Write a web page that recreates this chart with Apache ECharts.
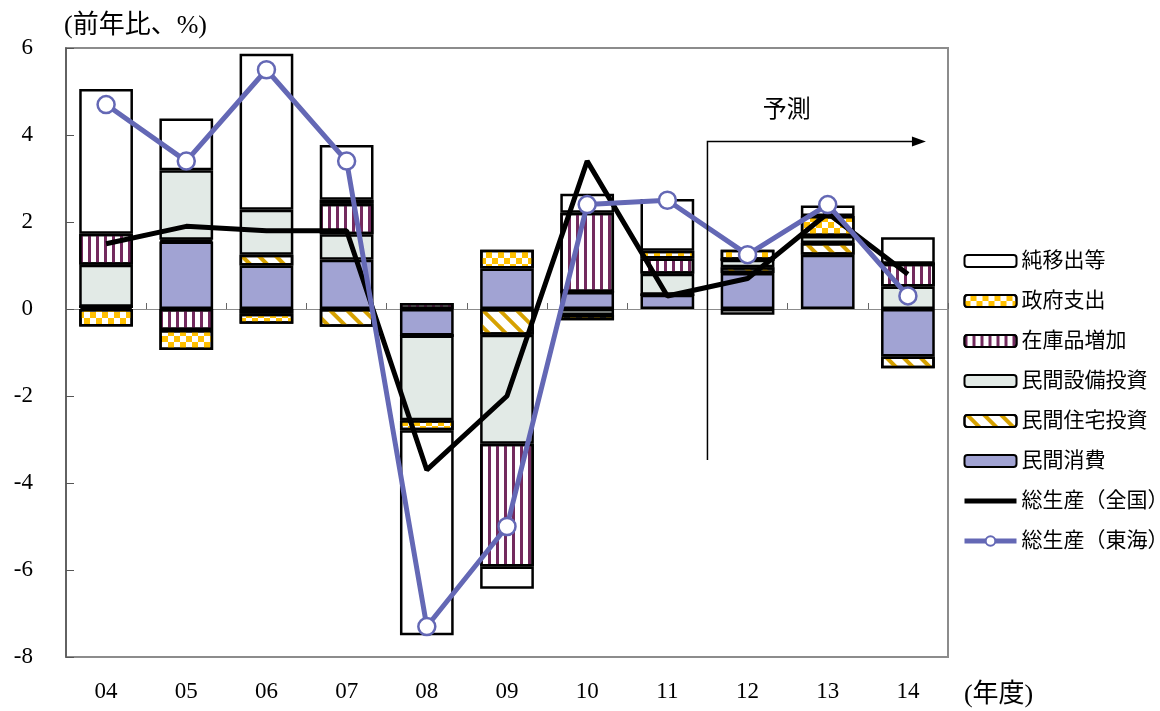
<!DOCTYPE html>
<html>
<head>
<meta charset="utf-8">
<script src="https://cdn.jsdelivr.net/npm/echarts@6/dist/echarts.min.js"></script>
<style>
  html, body { margin: 0; padding: 0; background: #fff; }
  #chart { width: 1160px; height: 711px; }
</style>
</head>
<body>
<div id="chart"></div>
<script>
// 年度
const years = ['04', '05', '06', '07', '08', '09', '10', '11', '12', '13', '14'];

// 寄与度（%ポイント）
const consumption = [0.05, 1.55, 1.00, 1.13, -0.61, 0.93, 0.39, 0.33, 0.83, 1.25, -1.09]; // 民間消費
const housing     = [0, 0.04, 0.25, -0.41, 0, -0.59, 0, 0, 0.13, 0.27, -0.27];              // 民間住宅投資
const equipment   = [0.97, 1.60, 1.03, 0.59, -1.95, -2.51, -0.14, 0.48, 0.17, 0.16, 0.52];  // 民間設備投資
const inventory   = [0.71, -0.48, -0.11, 0.70, 0.14, -2.82, 1.82, 0.35, 0, 0, 0.52];        // 在庫品増加
const government  = [-0.40, -0.46, -0.23, 0.09, -0.23, 0.43, -0.12, 0.18, 0.23, 0.46, 0];  // 政府支出
const netExports  = [3.33, 1.19, 3.59, 1.26, -4.71, -0.51, 0.44, 1.19, -0.13, 0.24, 0.61]; // 純移出等

// 総生産の伸び率（%）
const gdpNation = [1.5, 1.9, 1.8, 1.8, -3.7, -2.0, 3.4, 0.3, 0.7, 2.2, 0.8];
const gdpTokai  = [4.7, 3.4, 5.5, 3.4, -7.3, -5.0, 2.4, 2.5, 1.25, 2.4, 0.3];

// 縦軸目盛
const yTicks = { min: -8, max: 6, step: 2 };

const FONT = "'Liberation Serif', 'Noto Sans CJK JP', serif";
const chart = echarts.init(document.getElementById('chart'));

const border = { borderColor: '#000', borderWidth: 2.5 };

function barSeries(name, data, color, decal) {
  const s = {
    name: name,
    type: 'bar',
    stack: 'total',
    barWidth: '67%',
    data: data,
    itemStyle: Object.assign({ color: color }, border),
    emphasis: { disabled: true }
  };
  if (decal) s.itemStyle.decal = decal;
  return s;
}

const option = {
  animation: false,
  backgroundColor: '#fff',
  textStyle: { fontFamily: FONT },
  grid: {
    left: 66, right: 212, top: 48, bottom: 54,
    show: true, borderColor: '#8c8c8c', borderWidth: 2
  },
  legend: {
    orient: 'vertical',
    left: 962,
    top: 250,
    padding: 0,
    itemWidth: 52,
    itemHeight: 12,
    itemGap: 18,
    textStyle: { fontSize: 21, lineHeight: 22, color: '#000', fontFamily: FONT },
    data: ['純移出等', '政府支出', '在庫品増加', '民間設備投資', '民間住宅投資', '民間消費',
           { name: '総生産（全国）', icon: 'path://M0,0 L52,0 L52,5 L0,5 Z' },
           { name: '総生産（東海）', lineStyle: { width: 5 } }]
  },
  xAxis: [
    {
      type: 'category',
      data: years,
      position: 'bottom',
      axisLine: { show: false, onZero: false },
      axisTick: { show: false },
      axisLabel: { fontSize: 23, color: '#000', margin: 23, fontFamily: FONT }
    },
    {
      type: 'category',
      data: years,
      position: 'bottom',
      axisLine: { show: true, onZero: true, lineStyle: { color: '#8c8c8c', width: 1 } },
      axisTick: { show: true, inside: true, length: 6, lineStyle: { color: '#666', width: 1 } },
      axisLabel: { show: false }
    }
  ],
  yAxis: {
    type: 'value',
    min: yTicks.min,
    max: yTicks.max,
    interval: yTicks.step,
    axisLine: { show: true, lineStyle: { color: '#555', width: 1.5 } },
    axisTick: { show: true, inside: true, length: 8, lineStyle: { color: '#555', width: 1 } },
    splitLine: { show: false },
    axisLabel: { fontSize: 23, color: '#000', margin: 33, fontFamily: FONT }
  },
  series: [
    barSeries('民間消費', consumption, '#a1a3d3'),
    barSeries('民間住宅投資', housing, '#ffffff', {
      symbol: 'rect', symbolSize: 1, color: '#d6a100',
      dashArrayX: [4, 8], dashArrayY: [10, 0], rotation: -Math.PI / 4
    }),
    barSeries('民間設備投資', equipment, '#e2eae6'),
    barSeries('在庫品増加', inventory, '#ffffff', {
      symbol: 'rect', symbolSize: 1, color: '#732a5e',
      dashArrayX: [3, 4.4], dashArrayY: [10, 0], rotation: 0
    }),
    barSeries('政府支出', government, '#ffffff', {
      symbol: 'rect', symbolSize: 1, color: '#ffc000',
      dashArrayX: [[6, 6], [0, 6, 6, 0]], dashArrayY: [6, 0], rotation: 0
    }),
    barSeries('純移出等', netExports, '#ffffff'),
    {
      name: '総生産（全国）',
      type: 'line',
      data: gdpNation,
      symbol: 'none',
      z: 5,
      lineStyle: { color: '#000', width: 5 },
      itemStyle: { color: '#000' }
    },
    {
      name: '総生産（東海）',
      type: 'line',
      data: gdpTokai,
      symbol: 'circle',
      symbolSize: 17,
      z: 6,
      lineStyle: { color: '#6468b5', width: 5 },
      itemStyle: { color: '#fff', borderColor: '#6468b5', borderWidth: 2.5 }
    }
  ]
};

chart.setOption(option);

// 予測期間の矢印と注記
const xA = chart.convertToPixel({ xAxisIndex: 0 }, years[7]);
const xB = chart.convertToPixel({ xAxisIndex: 0 }, years[8]);
const xStart = (xA + xB) / 2;
const xEnd = chart.convertToPixel({ xAxisIndex: 0 }, years[10]) + 18;
const yArrow = chart.convertToPixel({ yAxisIndex: 0 }, 3.85);
const yFoot = chart.convertToPixel({ yAxisIndex: 0 }, -3.47);
const plotBottom = chart.convertToPixel({ yAxisIndex: 0 }, yTicks.min);
const plotRight = chart.convertToPixel({ xAxisIndex: 0 }, years[10]) + 40;

chart.setOption({
  graphic: [
    {
      type: 'polyline',
      shape: { points: [[xStart, yFoot], [xStart, yArrow], [xEnd - 12, yArrow]] },
      style: { stroke: '#000', lineWidth: 1.5, fill: null },
      z: 10
    },
    {
      type: 'polygon',
      shape: { points: [[xEnd - 14, yArrow - 5], [xEnd, yArrow], [xEnd - 14, yArrow + 5]] },
      style: { fill: '#000' },
      z: 10
    },
    {
      type: 'text',
      x: (xStart + xEnd) / 2 - 30,
      y: yArrow - 34,
      style: { text: '予測', fill: '#000', font: "24px 'Noto Sans CJK JP'", textAlign: 'center', textVerticalAlign: 'middle' },
      z: 10
    },
    {
      type: 'text',
      x: 64,
      y: 26,
      style: { text: '(前年比、%)', fill: '#000', font: "26px 'Liberation Serif', 'Noto Sans CJK JP'", textAlign: 'left', textVerticalAlign: 'middle' },
      z: 10
    },
    {
      type: 'text',
      x: plotRight + 16,
      y: plotBottom + 38,
      style: { text: '(年度)', fill: '#000', font: "26px 'Liberation Serif', 'Noto Sans CJK JP'", textAlign: 'left', textVerticalAlign: 'middle' },
      z: 10
    }
  ]
});
</script>
</body>
</html>
